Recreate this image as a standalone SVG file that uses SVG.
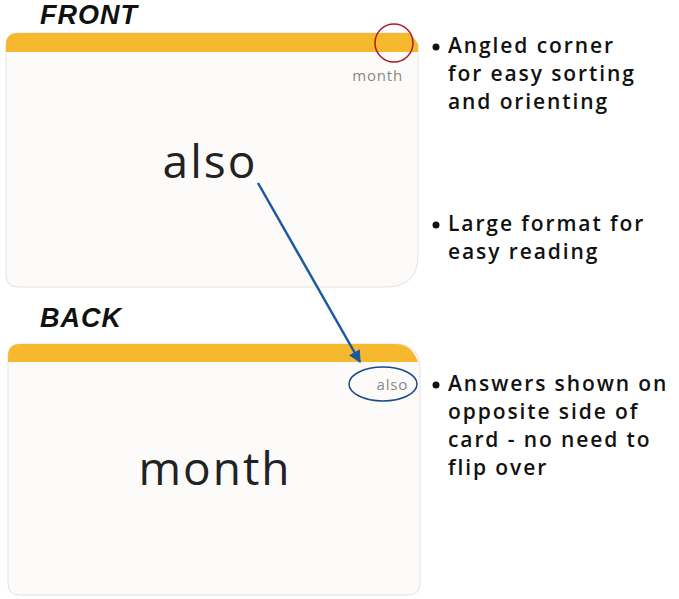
<svg xmlns="http://www.w3.org/2000/svg" width="679" height="599" viewBox="0 0 679 599">
<defs>
<style>
.h{font-family:"Liberation Sans",Arial,sans-serif;font-style:italic;font-weight:bold;font-size:27px;fill:#111;letter-spacing:1px}
.b{font-family:"Open Sans","DejaVu Sans",sans-serif;font-weight:600;font-size:21px;fill:#111;letter-spacing:1.9px}
.w{font-family:"Open Sans","DejaVu Sans",sans-serif;font-weight:500;font-size:46px;fill:#222;letter-spacing:2px}
.s{font-family:"Open Sans","DejaVu Sans",sans-serif;font-size:15px;fill:#888;letter-spacing:0.8px}
.card{fill:#fdfbf9;stroke:#e6e2de;stroke-width:1}
.band{fill:#f6b92e}
</style>
<marker id="ah" viewBox="0 0 10 10" refX="9" refY="5" markerWidth="5" markerHeight="5" orient="auto"><path d="M0,0 L10,5 L0,10 z" fill="#1a5aa0"/></marker>
</defs>
<rect width="679" height="599" fill="#fff"/>
<text class="h" x="40" y="24">FRONT</text>
<text class="h" x="40" y="327">BACK</text>
<g id="front">
<path class="card" d="M18,33 H410 L418,44 V255 Q418,287 386,287 H18 Q6,287 6,275 V45 Q6,33 18,33 Z"/>
<path class="band" d="M18,33 H410 L418,44 V52 H6 V45 Q6,33 18,33 Z"/>
<text class="s" x="403" y="81" text-anchor="end">month</text>
<text class="w" x="210" y="178" text-anchor="middle">also</text>
<circle cx="394" cy="43" r="19" fill="none" stroke="#b0182a" stroke-width="1.5"/>
</g>
<g id="back">
<path class="card" d="M20,344 H395 Q420,344 420,369 V583 Q420,595 408,595 H20 Q8,595 8,583 V356 Q8,344 20,344 Z"/>
<path class="band" d="M20,344 H395 Q412,344 418,362 H8 V356 Q8,344 20,344 Z"/>
<text class="s" x="408" y="390" text-anchor="end">also</text>
<text class="w" x="215" y="485" text-anchor="middle">month</text>
<ellipse cx="383" cy="384" rx="34" ry="17" fill="none" stroke="#1a4a8a" stroke-width="1.5"/>
</g>
<g id="connectors">
<line x1="258" y1="183" x2="360" y2="362" stroke="#1a5aa0" stroke-width="2.5" marker-end="url(#ah)"/>
</g>
<g id="notes">
<circle cx="436" cy="47" r="3.5" fill="#111"/>
<text class="b" x="448" y="53">Angled corner</text>
<text class="b" x="448" y="81">for easy sorting</text>
<text class="b" x="448" y="109">and orienting</text>
<circle cx="436" cy="225" r="3.5" fill="#111"/>
<text class="b" x="448" y="231">Large format for</text>
<text class="b" x="448" y="259">easy reading</text>
<circle cx="436" cy="385" r="3.5" fill="#111"/>
<text class="b" x="448" y="391">Answers shown on</text>
<text class="b" x="448" y="419">opposite side of</text>
<text class="b" x="448" y="447">card - no need to</text>
<text class="b" x="448" y="475">flip over</text>
</g>
</svg>
